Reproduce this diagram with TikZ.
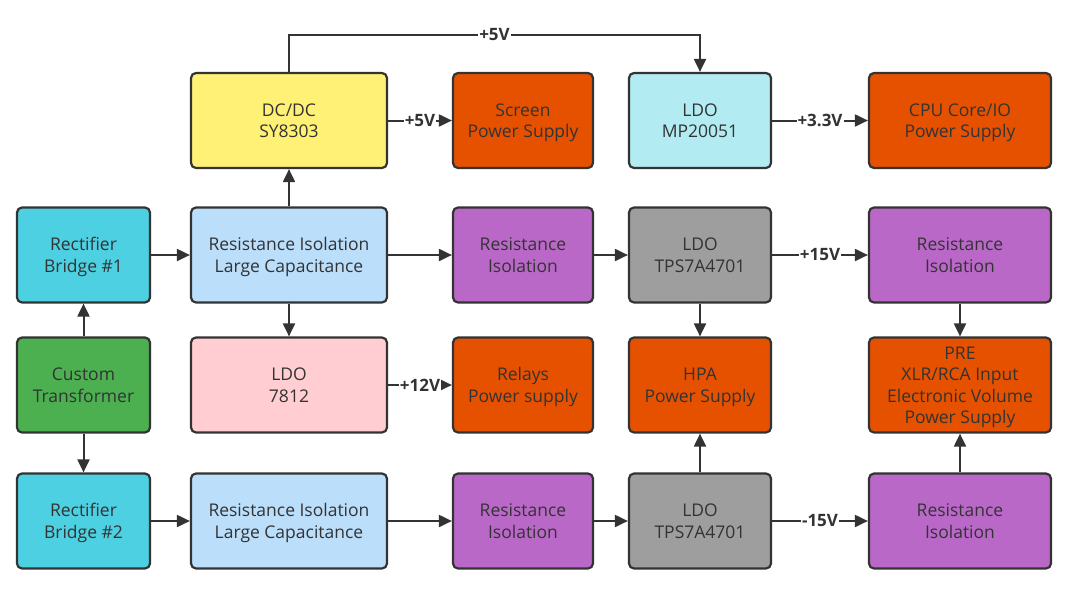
\documentclass[tikz,border=0pt]{standalone}
\usepackage{fontspec}
\setmainfont{Open Sans}
\usetikzlibrary{arrows.meta}

\definecolor{ink}{HTML}{333333}
\definecolor{cYellow}{RGB}{255,241,118}
\definecolor{cOrange}{RGB}{230,81,0}
\definecolor{cIce}{RGB}{178,235,242}
\definecolor{cCyan}{RGB}{77,208,225}
\definecolor{cSky}{RGB}{187,222,251}
\definecolor{cPurple}{RGB}{186,104,200}
\definecolor{cGray}{RGB}{158,158,158}
\definecolor{cGreen}{RGB}{76,175,80}
\definecolor{cPink}{RGB}{255,205,210}

\tikzset{
  blk/.style={draw=ink, line width=2.2pt, rounded corners=5pt, text=ink,
    align=center, minimum height=95pt, inner sep=0pt, text depth=-5pt,
    font=\fontsize{17.5}{21.5}\selectfont},
  colA/.style={blk, minimum width=133pt},
  colB/.style={blk, minimum width=196pt},
  colC/.style={blk, minimum width=140pt},
  colD/.style={blk, minimum width=142pt},
  colE/.style={blk, minimum width=182pt},
  flow/.style={draw=ink, line width=2pt, -{Triangle[length=13pt,width=12pt]}},
  lbl/.style={fill=white, inner sep=1pt, text=ink,
    font=\bfseries\fontsize{17}{17}\selectfont},
}

\begin{document}
\begin{tikzpicture}[x=1pt,y=-1pt]
    \useasboundingbox (0,0) rectangle (1069,603);
    % row 1
    \node[colB, fill=cYellow] (dcdc) at (289,120.5) {DC/DC\\SY8303};
    \node[colC, fill=cOrange] (screen) at (523,120.5) {Screen\\Power Supply};
    \node[colD, fill=cIce] (ldo5) at (700,120.5) {LDO\\MP20051};
    \node[colE, fill=cOrange] (cpu) at (960,120.5) {CPU Core/IO\\Power Supply};
    % row 2
    \node[colA, fill=cCyan] (rect1) at (83.5,255) {Rectifier\\Bridge \#1};
    \node[colB, fill=cSky] (iso1) at (289,255) {Resistance Isolation\\Large Capacitance};
    \node[colC, fill=cPurple] (res1) at (523,255) {Resistance\\Isolation};
    \node[colD, fill=cGray] (tps1) at (700,255) {LDO\\TPS7A4701};
    \node[colE, fill=cPurple] (res3) at (960,255) {Resistance\\Isolation};
    % row 3
    \node[colA, fill=cGreen] (trans) at (83.5,385) {Custom\\Transformer};
    \node[colB, fill=cPink] (ldo12) at (289,385) {LDO\\7812};
    \node[colC, fill=cOrange] (relays) at (523,385) {Relays\\Power supply};
    \node[colD, fill=cOrange] (hpa) at (700,385) {HPA\\Power Supply};
    \node[colE, fill=cOrange] (pre) at (960,385) {PRE\\XLR/RCA Input\\Electronic Volume\\Power Supply};
    % row 4
    \node[colA, fill=cCyan] (rect2) at (83.5,521) {Rectifier\\Bridge \#2};
    \node[colB, fill=cSky] (iso2) at (289,521) {Resistance Isolation\\Large Capacitance};
    \node[colC, fill=cPurple] (res2) at (523,521) {Resistance\\Isolation};
    \node[colD, fill=cGray] (tps2) at (700,521) {LDO\\TPS7A4701};
    \node[colE, fill=cPurple] (res4) at (960,521) {Resistance\\Isolation};

    % transformer to rectifiers
    \draw[flow] (trans) -- (rect1);
    \draw[flow] (trans) -- (rect2);
    \draw[flow] (rect1) -- (iso1);
    \draw[flow] (rect2) -- (iso2);
    % upper rail
    \draw[flow] (iso1) -- (dcdc);
    \draw[flow] (iso1) -- (ldo12);
    \draw[flow] (iso1) -- (res1);
    \draw[flow] (res1) -- (tps1);
    \draw[flow] (tps1) -- node[lbl]{+15V} (res3);
    \draw[flow] (tps1) -- (hpa);
    \draw[flow] (res3) -- (pre);
    % lower rail
    \draw[flow] (iso2) -- (res2);
    \draw[flow] (res2) -- (tps2);
    \draw[flow] (tps2) -- node[lbl]{-15V} (res4);
    \draw[flow] (tps2) -- (hpa);
    \draw[flow] (res4) -- (pre);
    % 5V and 12V branches
    \draw[flow] (dcdc) -- node[lbl]{+5V} (screen);
    \draw[flow] (ldo12) -- node[lbl]{+12V} (relays);
    \draw[flow] (ldo5) -- node[lbl]{+3.3V} (cpu);
    \coordinate (top) at (289,35);
    \draw[flow] (dcdc.north) -- (dcdc.north |- top)
        -- node[lbl]{+5V} (ldo5.north |- top) -- (ldo5.north);
\end{tikzpicture}
\end{document}
